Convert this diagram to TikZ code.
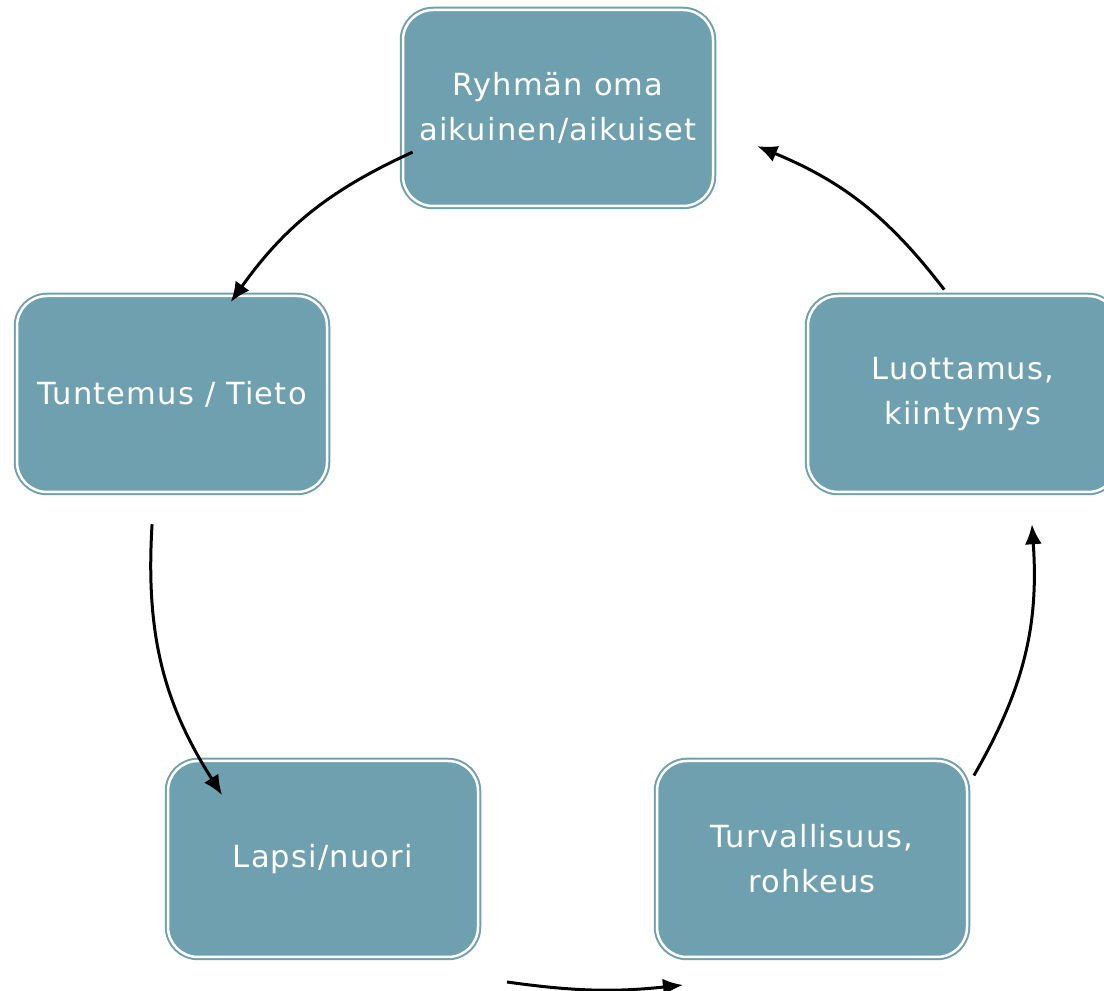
\documentclass[tikz,border=0pt]{standalone}
\usepackage{fontspec}
\setmainfont{DejaVu Sans}[LetterSpace=4]
\usetikzlibrary{positioning,arrows.meta,calc}
\definecolor{boxteal}{RGB}{111,160,176}
\tikzset{
  box/.style={rectangle, rounded corners=30pt, fill=boxteal, draw=boxteal,
    double=white, double distance=2.5pt, line width=2pt,
    minimum width=310pt, minimum height=196pt, inner sep=4pt,
    text=white, align=center, font=\fontsize{30.5}{45}\selectfont},
  cyc/.style={-{Latex[length=20pt,width=17pt]}, line width=3pt},
}

\begin{document}
\begin{tikzpicture}[x=1pt,y=1pt]
	\useasboundingbox (0,0) rectangle (1104,991);
	\clip (0,0) rectangle (1104,991);

		%the five stages
		\node[box] (adult) at (558,883) {Ryhmän oma\\aikuinen/aikuiset};
		\node[box] (know) at (172,597) {Tuntemus / Tieto};
		\node[box] (child) at (323,132) {Lapsi/nuori};
		\node[box] (safe) at (812,132) {Turvallisuus,\\rohkeus};
		\node[box] (trust) at (963,597) {Luottamus,\\kiintymys};

		%end points on the circle
		\coordinate (o) at (592,436);
		\foreach \n/\a in {s1/114,e1/145,s2/176,e2/213,s4/330,e4/364,s5/37,e5/68}
			\coordinate (\n) at ($(o)+(\a:441)$);
		\coordinate (s3) at (507,9);
		\coordinate (e3) at (683,6);

		%the cycle
		\draw[cyc] (s1) to[bend right=15] (e1);
		\draw[cyc] (s2) to[bend right=18] (e2);
		\draw[cyc] (s3) to[bend right=7] (e3);
		\draw[cyc] (s4) to[bend right=17] (e4);
		\draw[cyc] (s5) to[bend right=15] (e5);

\end{tikzpicture}
\end{document}
